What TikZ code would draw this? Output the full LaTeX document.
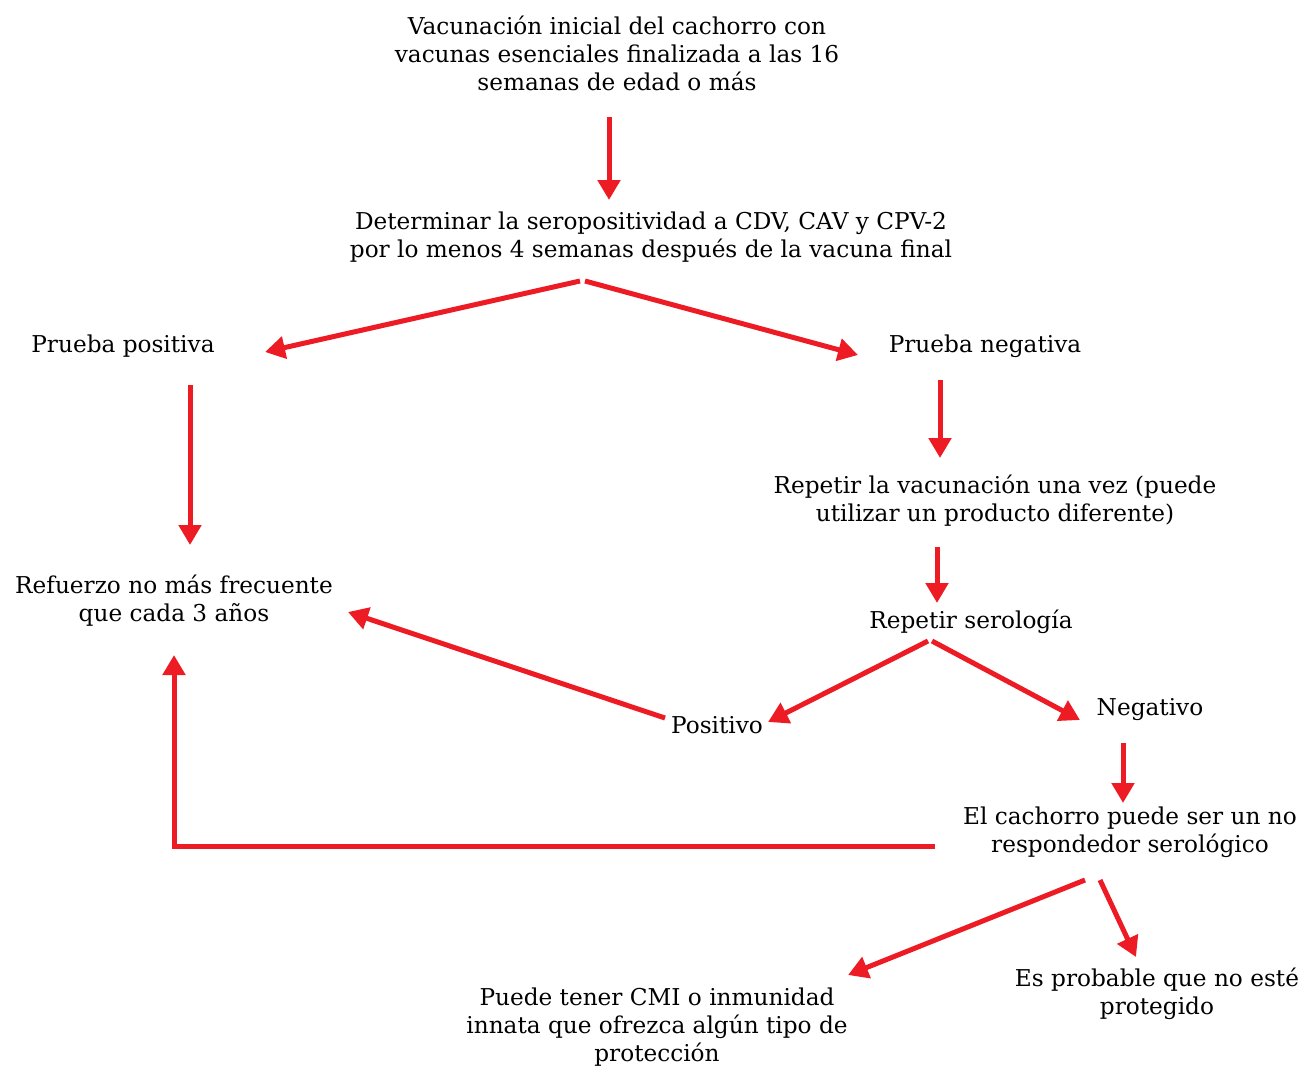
\documentclass[tikz,border=0pt]{standalone}
\usepackage{fontspec}
\setmainfont{DejaVu Serif}
\usetikzlibrary{arrows.meta,calc}

\definecolor{rojoflecha}{RGB}{237,28,36}
\tikzset{
  texto/.style={align=center, font=\fontsize{11.6}{14}\selectfont, inner sep=0pt},
  flecha/.style={draw=rojoflecha, line width=2.5pt, -{Triangle[length=10pt,width=11pt]}},
}

\begin{document}
\begin{tikzpicture}[x=0.5pt, y=-0.5pt]
\def \xizq {174};
\def \yfondo {846};

\useasboundingbox (0,0) rectangle (1301,1066);

\node [texto] (inicio)     at (617, 53)   {Vacunación inicial del cachorro con\\vacunas esenciales finalizada a las 16\\semanas de edad o más};
\node [texto] (determinar) at (651, 237)  {Determinar la seropositividad a CDV, CAV y CPV-2\\por lo menos 4 semanas después de la vacuna final};
\node [texto] (ppos)       at (123, 346)  {Prueba positiva};
\node [texto] (pneg)       at (985, 346)  {Prueba negativa};
\node [texto] (repvac)     at (995, 501)  {Repetir la vacunación una vez (puede\\utilizar un producto diferente)};
\node [texto] (refuerzo)   at (\xizq, 601) {Refuerzo no más frecuente\\que cada 3 años};
\node [texto] (repser)     at (971, 622)  {Repetir serología};
\node [texto] (positivo)   at (717, 725)  {Positivo};
\node [texto] (negativo)   at (1150, 710) {Negativo};
\node [texto] (noresp)     at (1130, 832) {El cachorro puede ser un no\\respondedor serológico};
\node [texto] (cmi)        at (657, 1027) {Puede tener CMI o inmunidad\\innata que ofrezca algún tipo de\\protección};
\node [texto] (noprot)     at (1157, 994) {Es probable que no esté\\protegido};

% primera serologia
\draw [flecha] ($(inicio)+(-8,64)$) -- ($(determinar)+(-42,-37)$);
\draw [flecha] ($(determinar)+(-71,44)$) -- ($(ppos)+(142,6)$);
\draw [flecha] ($(determinar)+(-66,44)$) -- ($(pneg)+(-127,9)$);
\draw [flecha] ($(ppos)+(67,39)$) -- ($(refuerzo)+(16,-56)$);
\draw [flecha] ($(pneg)+(-45,34)$) -- ($(repvac)+(-55,-43)$);
\draw [flecha] ($(repvac)+(-58,46)$) -- ($(repser)+(-34,-19)$);

% segunda serologia
\draw [flecha] ($(repser)+(-43,19)$) -- ($(positivo)+(51,-3)$);
\draw [flecha] ($(repser)+(-39,19)$) -- ($(negativo)+(-70,10)$);
\draw [flecha] ($(positivo)+(-52,-7)$) -- ($(refuerzo)+(174,11)$);
\draw [flecha] ($(negativo)+(-27,33)$) -- ($(noresp)+(-7,-29)$);

% no respondedor
\draw [flecha] ($(noresp)+(-195,14)$) -| ($(refuerzo)+(0,54)$);
\draw [flecha] ($(noresp)+(-45,48)$) -- ($(cmi)+(191,-52)$);
\draw [flecha] ($(noresp)+(-30,48)$) -- ($(noprot)+(-21,-37)$);

\end{tikzpicture}
\end{document}
